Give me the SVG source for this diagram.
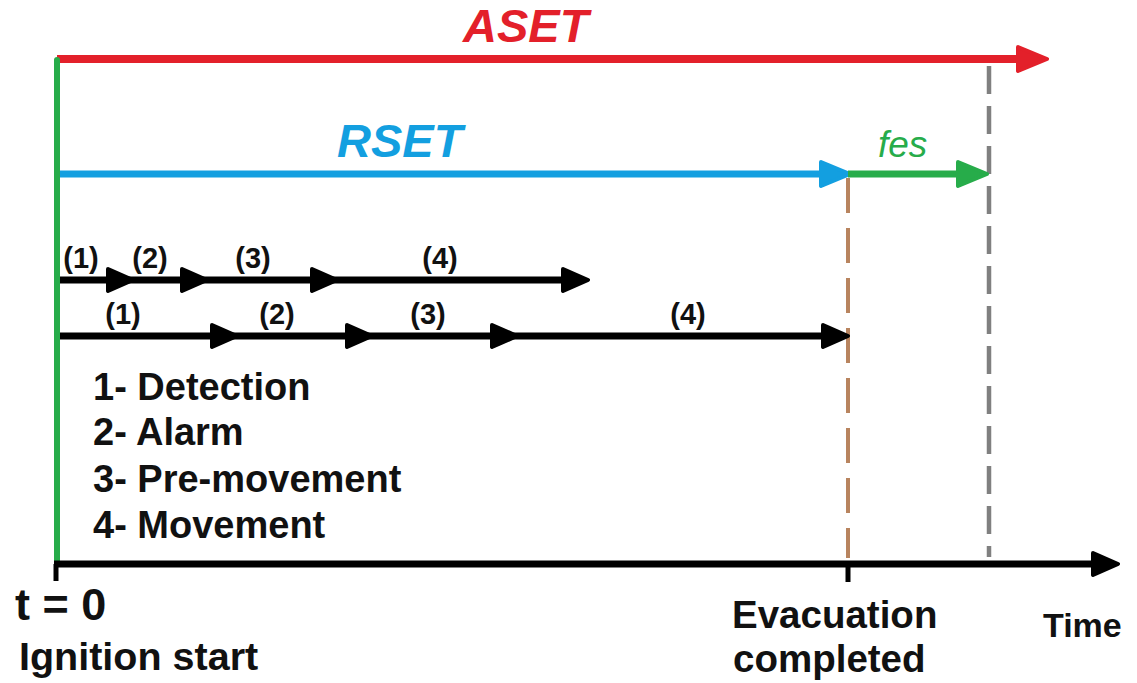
<svg xmlns="http://www.w3.org/2000/svg" width="1137" height="683" viewBox="0 0 1137 683">
  <style>
    .lbl { font-family: "Liberation Sans", Arial, sans-serif; font-weight: bold; fill: #111; }
    .step { font-size: 29px; text-anchor: middle; }
    .legend { font-size: 38px; }
    .title { font-family: "Liberation Sans", Arial, sans-serif; font-weight: bold; font-style: italic; font-size: 47px; }
    .ln { fill: none; stroke-linecap: butt; }
    .blk { stroke: #000; stroke-width: 7; }
  </style>
  <defs>
    <marker id="ahBlack" viewBox="0 0 30 28" markerUnits="userSpaceOnUse" markerWidth="30" markerHeight="28" refX="14" refY="14" orient="auto">
      <path d="M3,3 L28,14 L3,25 Z" fill="#000" stroke="#000" stroke-width="4" stroke-linejoin="round"/>
    </marker>
    <marker id="ahRed" viewBox="0 0 34 30" markerUnits="userSpaceOnUse" markerWidth="34" markerHeight="30" refX="16" refY="15" orient="auto">
      <path d="M3,3 L32,15 L3,27 Z" fill="#e3202a" stroke="#e3202a" stroke-width="4" stroke-linejoin="round"/>
    </marker>
    <marker id="ahBlue" viewBox="0 0 34 30" markerUnits="userSpaceOnUse" markerWidth="34" markerHeight="30" refX="16" refY="15" orient="auto">
      <path d="M3,3 L32,15 L3,27 Z" fill="#139fe0" stroke="#139fe0" stroke-width="4" stroke-linejoin="round"/>
    </marker>
    <marker id="ahGreen" viewBox="0 0 34 30" markerUnits="userSpaceOnUse" markerWidth="34" markerHeight="30" refX="16" refY="15" orient="auto">
      <path d="M3,3 L32,15 L3,27 Z" fill="#27ac4a" stroke="#27ac4a" stroke-width="4" stroke-linejoin="round"/>
    </marker>
  </defs>

  <rect width="1137" height="683" fill="#fff"/>

  <g id="connectors">
    <!-- dashed reference verticals -->
    <line class="ln" x1="989" y1="66" x2="989" y2="557" stroke="#808080" stroke-width="4.5" stroke-dasharray="28 12"/>
    <line class="ln" x1="848" y1="178" x2="848" y2="558" stroke="#b8845f" stroke-width="4" stroke-dasharray="35 15"/>

    <!-- ASET / RSET / fes spans -->
    <line class="ln" x1="57" y1="59" x2="1031" y2="59" stroke="#e3202a" stroke-width="8" marker-end="url(#ahRed)"/>
    <line class="ln" x1="57" y1="174" x2="834" y2="174" stroke="#139fe0" stroke-width="7" marker-end="url(#ahBlue)"/>
    <line class="ln" x1="848" y1="174" x2="971" y2="174" stroke="#27ac4a" stroke-width="7" marker-end="url(#ahGreen)"/>

    <!-- short-delay sequence -->
    <g id="row1">
      <line class="ln blk" x1="57" y1="280" x2="119" y2="280" marker-end="url(#ahBlack)"/>
      <line class="ln blk" x1="119" y1="280" x2="193" y2="280" marker-end="url(#ahBlack)"/>
      <line class="ln blk" x1="193" y1="280" x2="323" y2="280" marker-end="url(#ahBlack)"/>
      <line class="ln blk" x1="323" y1="280" x2="574" y2="280" marker-end="url(#ahBlack)"/>
    </g>
    <!-- long-delay sequence -->
    <g id="row2">
      <line class="ln blk" x1="57" y1="336" x2="223" y2="336" marker-end="url(#ahBlack)"/>
      <line class="ln blk" x1="223" y1="336" x2="358" y2="336" marker-end="url(#ahBlack)"/>
      <line class="ln blk" x1="358" y1="336" x2="503" y2="336" marker-end="url(#ahBlack)"/>
      <line class="ln blk" x1="503" y1="336" x2="834" y2="336" marker-end="url(#ahBlack)"/>
    </g>

    <!-- ignition line -->
    <line x1="57" y1="60" x2="57" y2="562" stroke="#27ac4a" stroke-width="6" stroke-linecap="round"/>

    <!-- time axis with ticks -->
    <line class="ln blk" x1="54" y1="564" x2="1104" y2="564" marker-end="url(#ahBlack)"/>
    <line x1="56" y1="564" x2="56" y2="581" stroke="#000" stroke-width="5"/>
    <line x1="848" y1="564" x2="848" y2="582" stroke="#000" stroke-width="5"/>
  </g>

  <g id="aset-label"><text class="title" x="463" y="42" fill="#e3202a">ASET</text></g>
  <g id="rset-label"><text class="title" x="337" y="157" fill="#139fe0">RSET</text></g>
  <g id="fes-label"><text x="878" y="157" font-family="'Liberation Sans', Arial, sans-serif" font-style="italic" font-size="37" fill="#27ac4a">fes</text></g>

  <g id="row1-labels" class="lbl step">
    <text x="81" y="268">(1)</text>
    <text x="150" y="268">(2)</text>
    <text x="253" y="268">(3)</text>
    <text x="440" y="268">(4)</text>
  </g>
  <g id="row2-labels" class="lbl step">
    <text x="123" y="324">(1)</text>
    <text x="277" y="324">(2)</text>
    <text x="428" y="324">(3)</text>
    <text x="688" y="324">(4)</text>
  </g>

  <g id="legend" class="lbl legend">
    <text x="93" y="400">1- Detection</text>
    <text x="93" y="445">2- Alarm</text>
    <text x="93" y="492">3- Pre-movement</text>
    <text x="93" y="538">4- Movement</text>
  </g>

  <g id="start-label" class="lbl">
    <text x="15" y="620" font-size="45">t = 0</text>
    <text x="19" y="670" font-size="39.5">Ignition start</text>
  </g>
  <g id="evacuation-label" class="lbl" font-size="38.5">
    <text x="732" y="628">Evacuation</text>
    <text x="733" y="672">completed</text>
  </g>
  <g id="time-label" class="lbl"><text x="1043" y="637" font-size="34">Time</text></g>
</svg>
